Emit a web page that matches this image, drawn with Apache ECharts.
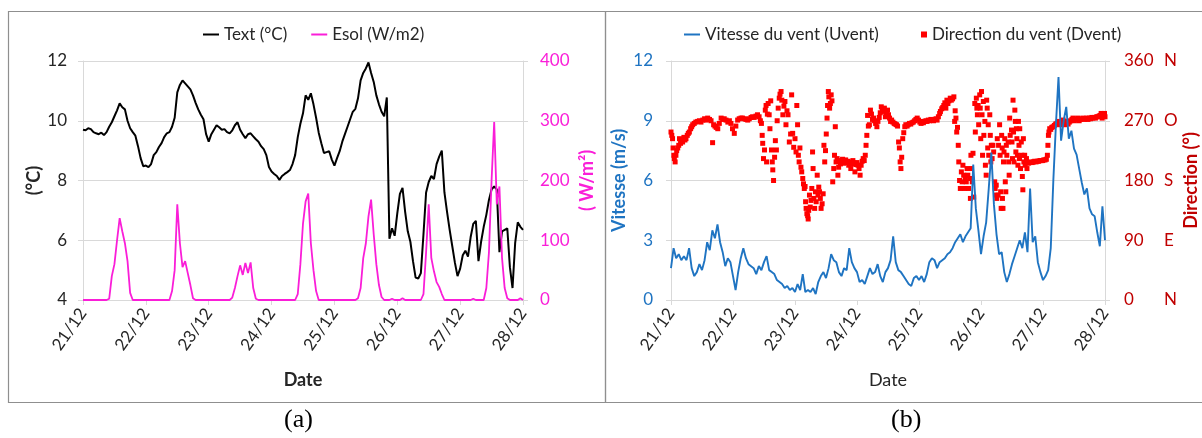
<!DOCTYPE html>
<html><head><meta charset="utf-8">
<script src="https://cdn.jsdelivr.net/npm/echarts@6/dist/echarts.min.js"></script>
<style>html,body{margin:0;padding:0;background:#fff}#c{width:1202px;height:438px}</style>
</head><body><div id="c"></div>
<script>
// ---- data ----
const dayLabels = ['21/12','22/12','23/12','24/12','25/12','26/12','27/12','28/12'];
const hours = Array.from({length: 169}, (_, i) => i); // hourly samples from 21/12 00:00

const textTemp = [
  9.70,9.68,9.75,9.72,9.62,9.58,9.55,9.60,9.52,9.62,9.80,9.95,10.15,10.35,10.58,10.45,10.38,10.00,9.75,9.62,9.50,9.15,8.75,8.48,
  8.50,8.45,8.55,8.85,8.95,9.12,9.25,9.45,9.58,9.62,9.80,10.10,10.95,11.20,11.35,11.25,11.15,11.05,10.85,10.60,10.38,10.20,10.05,9.55,
  9.30,9.55,9.70,9.85,9.78,9.70,9.72,9.62,9.58,9.68,9.85,9.95,9.70,9.55,9.42,9.55,9.58,9.48,9.38,9.30,9.15,9.05,8.85,8.45,
  8.30,8.22,8.15,8.02,8.15,8.22,8.28,8.35,8.55,8.85,9.45,9.90,10.25,10.85,10.70,10.92,10.55,10.10,9.60,9.25,8.92,8.95,8.98,8.70,
  8.50,8.75,8.98,9.30,9.55,9.80,10.05,10.30,10.40,10.75,11.35,11.60,11.75,11.95,11.60,11.30,10.85,10.55,10.30,10.15,10.78,6.05,6.40,6.15,
  6.90,7.55,7.75,6.95,6.30,5.95,5.30,4.75,4.72,4.90,6.20,7.60,7.95,8.15,8.05,8.55,8.80,9.00,7.60,6.95,6.35,5.80,5.25,4.80,
  5.05,5.50,5.65,5.45,6.10,6.55,6.65,5.30,5.95,6.45,6.85,7.35,7.70,7.80,7.70,5.60,6.30,6.35,6.40,5.10,4.40,5.90,6.60,6.45,
  6.35
];
const esol = [
  0,0,0,0,0,0,0,0,0,0,2,40,60,100,137,115,95,65,12,0,0,0,0,0,
  0,0,0,0,0,0,0,0,0,0,15,50,160,95,55,65,45,25,3,0,0,0,0,0,
  0,0,0,0,0,0,0,0,0,4,20,40,58,42,62,45,63,20,2,0,0,0,0,0,
  0,0,0,0,0,0,0,0,0,0,10,60,128,165,178,95,50,15,0,0,0,0,0,0,
  0,0,0,0,0,0,0,0,0,3,20,70,95,140,168,110,60,25,5,0,0,0,2,0,
  0,0,3,0,0,0,0,0,0,0,10,80,160,70,48,30,22,10,0,0,0,0,0,0,
  0,0,0,0,0,2,0,0,0,0,20,80,200,298,160,190,70,20,3,0,0,0,0,3,
  0
];
const windSpeed = [
  1.6,2.6,2.1,2.3,2.0,2.2,2.0,2.6,1.6,1.2,1.4,1.8,1.5,2.0,2.9,2.5,3.5,3.1,3.8,2.9,2.4,1.7,2.1,1.9,
  1.2,0.5,1.4,2.1,2.6,2.1,1.8,1.7,1.6,1.3,1.7,1.5,1.9,2.2,1.5,1.4,1.3,1.0,0.9,0.8,0.6,0.7,0.5,0.6,
  0.4,0.8,0.5,1.3,0.4,0.5,0.4,0.6,0.3,0.9,1.2,1.4,1.1,1.6,2.3,2.0,1.9,1.4,1.2,1.6,1.5,2.6,1.9,1.6,
  1.4,0.9,1.0,0.8,1.2,1.6,1.3,1.4,1.8,1.2,0.9,1.4,1.6,2.0,3.2,1.9,1.5,1.4,1.2,1.0,0.8,0.7,1.1,1.2,
  1.0,1.2,0.9,1.3,1.9,2.1,2.0,1.6,1.9,2.0,2.1,2.3,2.4,2.6,2.9,3.1,3.3,2.9,3.2,3.4,3.6,6.8,4.6,3.5,
  2.3,3.2,3.9,5.6,7.4,4.8,3.3,2.3,2.4,1.4,0.9,1.3,1.8,2.2,2.6,3.0,2.6,3.4,2.4,5.6,2.9,3.2,1.9,1.4,
  1.0,1.2,1.5,2.6,6.0,8.8,11.2,8.0,9.0,9.7,8.1,8.5,7.6,7.3,6.6,5.9,5.3,5.6,4.6,4.3,4.2,3.4,2.7,4.7,
  3.0
];
// [hour since 21/12 00:00, direction in degrees]
const windDirection = [
 [0,253],[0.3,248],[0.6,243],[0.8,229],[1.1,218],[1.3,213],[1.6,208],[1.9,218],[2.2,225],[2.6,229],[3.0,233],[3.3,243],[3.7,236],[4.1,240],[4.5,238],[5.0,245],[5.4,241],[5.8,243],[6.3,248],[6.7,251],[7.1,253],[7.6,258],[8.0,261],[8.4,264],[9.0,266],[9.6,268],[10.3,269],[11.0,270],[11.6,268],[12.3,271],[13.0,273],[13.6,271],[14.2,274],[14.9,272],[15.5,270],[16.1,237],[16.5,264],[17.0,262],[17.5,260],[18.1,258],[18.7,266],[19.4,274],[20.0,272],[20.6,273],[21.3,271],[22.0,268],[22.6,270],[23.2,266],[23.8,258],[24.5,251],[25.1,262],[25.8,271],[26.4,273],[27.1,274],[27.7,274],[28.4,273],[29.0,272],[29.7,271],[30.3,273],[31.0,275],[31.6,276],[32.2,275],[32.9,277],[33.5,279],[34.1,276],[34.6,270],
 [35.0,266],[35.3,248],[35.5,236],[35.8,213],[36.2,226],[36.5,286],[36.8,293],[37.0,208],[37.3,280],[37.6,296],[38.0,279],[38.3,258],[38.6,300],[38.9,226],[39.2,208],[39.4,196],[39.7,180],[40.1,215],[40.4,240],[40.8,226],[41.1,270],[41.5,289],[41.9,304],[42.2,310],[42.6,314],[42.9,301],[43.3,279],[43.7,292],[44.1,299],[44.5,264],[44.9,285],[45.3,279],[45.8,238],[46.3,250],[46.7,309],[47.1,251],[47.5,230],[48.0,243],[48.4,223],[48.7,293],[49.0,264],[49.3,218],[49.6,208],[49.9,229],[50.3,200],[50.6,193],[51.0,183],[51.3,175],[51.6,168],[51.9,171],[52.1,148],[52.3,138],[52.6,130],[52.9,127],[53.1,122],[53.3,135],[53.6,158],[53.9,140],[54.2,150],[54.5,168],[54.8,223],[55.0,198],[55.3,153],[55.6,138],[55.9,163],[56.2,148],[56.6,188],[56.9,158],[57.2,170],[57.5,163],[57.8,153],[58.1,138],[58.5,145],[58.9,160],[59.2,233],[59.5,208],[59.8,225],[60.1,250],[60.4,274],[60.6,293],[60.9,314],[61.1,306],[61.4,289],[61.7,296],[62.0,309],[62.3,300],[62.6,178],[63.0,198],[63.3,218],[63.6,261],[63.9,208],[64.3,213],[64.6,188],[64.9,200],[65.3,210],[65.6,205],[66.0,208],[66.4,212],[66.8,206],[67.2,210],[67.6,211],[68.0,207],[68.4,209],[68.8,203],[69.2,208],[69.6,198],[70.0,205],[70.4,210],[70.8,206],[71.2,193],[71.6,204],[72.0,207],[72.4,203],[72.8,198],[73.2,188],[73.6,203],[74.0,209],[74.4,213],[74.8,210],[75.2,218],
 [75.5,233],[75.8,248],[76.1,278],[76.4,262],[76.8,264],[77.2,286],[77.6,280],[78.0,272],[78.4,274],[78.8,270],[79.2,266],[79.7,261],[80.1,269],[80.6,275],[81.0,282],[81.4,291],[81.8,284],[82.2,288],[82.6,289],[83.0,276],[83.4,282],[83.8,286],[84.2,279],[84.6,274],[85.0,269],[85.4,271],[85.9,268],[86.4,266],[86.8,265],[87.3,264],[87.7,262],[88.1,238],[88.4,229],[88.7,208],[89.0,198],[89.3,215],[89.7,243],[90.1,252],[90.5,261],[90.9,264],[91.4,262],[91.8,264],[92.3,266],[92.8,265],[93.3,267],[93.8,268],[94.3,270],[94.8,272],[95.3,274],[95.8,271],[96.3,268],[96.8,266],[97.2,269],[97.7,267],[98.2,269],[98.7,270],[99.1,269],[99.6,271],[100.1,270],[100.6,272],[101.1,271],[101.6,270],[102.1,272],[102.6,273],[103.0,271],[103.5,276],[104.0,281],[104.3,284],[104.8,288],[105.2,290],[105.6,293],[106.0,297],[106.4,289],[106.8,301],[107.2,296],[107.6,300],[108.1,304],[108.5,301],[109.0,303],[109.5,306],[109.8,269],[110.0,285],[110.3,274],[110.6,253],[110.9,260],[111.2,233],[111.4,208],[111.7,180],[112.0,168],[112.4,193],[112.7,178],[113.0,203],[113.3,188],[113.6,168],[113.9,183],[114.3,178],[114.6,198],[114.9,188],[115.2,168],[115.6,183],[115.9,153],[116.1,218],[116.3,198],[116.6,178],[116.9,221],[117.2,155],
 [117.6,296],[117.8,253],[118.2,304],[118.4,289],[118.6,279],[118.9,293],[119.1,264],[119.5,309],[119.7,289],[119.9,243],[120.2,314],[120.4,279],[120.6,218],[120.9,299],[121.1,248],[121.5,269],[121.7,203],[122.0,188],[122.2,301],[122.4,289],[122.6,229],[122.8,264],[123.0,218],[123.4,279],[123.6,248],[123.8,208],[124.0,233],[124.3,213],[124.6,233],[124.9,223],[125.3,178],[125.5,168],[125.7,158],[125.9,173],[126.1,153],[126.3,243],[126.6,158],[126.8,233],[127.2,264],[127.4,218],[127.6,163],[127.8,138],[128.0,248],[128.2,229],[128.3,153],[128.5,138],[128.7,208],[128.9,223],[129.2,243],[129.4,178],[129.6,163],[129.8,233],[130.0,218],[130.5,238],[130.7,208],[130.9,188],[131.1,274],[131.3,248],[131.8,256],[132.0,238],[132.2,213],[132.4,301],[132.6,253],[132.8,208],[133.1,286],[133.3,269],[133.5,223],[133.7,258],[133.9,243],[134.1,218],[134.3,203],[134.5,269],[134.7,233],[134.9,213],[135.0,258],[135.3,198],[135.6,238],[135.8,218],[136.0,186],[136.2,166],[136.4,243],[136.6,208],[136.9,218],[137.1,203],[137.6,213],[137.8,198],
 [138.3,206],[138.8,207],[139.3,208],[139.8,207],[140.3,208],[140.8,209],[141.3,208],[141.8,209],[142.3,209],[142.8,210],[143.3,210],[143.8,210],[144.3,211],[144.8,211],[145.3,212],[145.7,218],
 [145.9,233],[146.1,248],[146.3,253],[146.6,258],[147.0,257],[147.4,260],[147.9,261],[148.4,263],[148.9,265],[149.4,266],[149.9,269],[150.4,264],[150.9,268],[151.4,266],[151.8,271],[152.3,264],[152.8,267],[153.3,269],[153.7,265],[154.2,268],[154.7,270],[155.2,272],[155.6,274],[156.1,270],[156.6,271],[157.0,273],[157.5,274],[158.0,270],[158.5,272],[159.0,273],[159.5,274],[160.0,272],[160.5,273],[161.0,274],[161.4,272],[161.9,274],[162.4,273],[162.9,275],[163.3,274],[163.8,275],[164.3,274],[164.8,276],[165.2,276],[165.7,277],[166.1,278],[166.5,281],[166.9,274],[167.3,279],[167.8,281],[168.0,276]
];
const tempTicks = [4, 12, 2];      // min, max, interval
const esolTicks = [0, 400, 100];
const speedTicks = [0, 12, 3];
const dirTicks = [0, 360, 90];
const dirLetters = {0: 'N', 90: 'E', 180: 'S', 270: 'O', 360: 'N'};

// ---- styles ----
const FONT = 'Lato';
const GRID_C = '#d9d9d9';
const MAGENTA = '#fa1ed8';
const BLUE = '#1f74c2';
const DARKRED = '#c00000';
const TXT = '#262626';

const xAxisBase = (gi, bold) => ({
  type: 'value', gridIndex: gi, min: 0, max: 168, interval: 24,
  axisLine: {show: true, lineStyle: {color: GRID_C, width: 1}},
  axisTick: {show: true, length: 5, lineStyle: {color: GRID_C}},
  splitLine: {show: false},
  axisLabel: {rotate: 55, margin: 10, fontFamily: FONT, fontSize: 17, color: TXT,
    formatter: v => dayLabels[Math.round(v / 24)]},
  name: 'Date', nameLocation: 'middle', nameGap: 71,
  nameTextStyle: {fontFamily: FONT, fontSize: 18, fontWeight: bold ? 'bold' : 'normal', color: TXT}
});
const yAxisBase = (gi, pos, t, color, name, gap, split, margin, fmt) => ({
  type: 'value', gridIndex: gi, position: pos, min: t[0], max: t[1], interval: t[2],
  axisLine: {show: true, lineStyle: {color: GRID_C, width: 1}},
  axisTick: {show: true, length: 5, lineStyle: {color: GRID_C}},
  splitLine: {show: split, lineStyle: {color: GRID_C, width: 1}},
  axisLabel: Object.assign({margin: margin, fontFamily: FONT, fontSize: 17, color: color}, fmt || {}),
  name: name, nameLocation: 'middle', nameGap: gap, nameRotate: 90,
  nameTextStyle: {fontFamily: FONT, fontSize: 18, fontWeight: 'bold', color: color}
});

const legendBase = (left, names, w, h, icon) => ({
  left: left, top: 21, data: names, icon: icon, itemWidth: w, itemHeight: h, itemGap: 24,
  textStyle: {fontFamily: FONT, fontSize: 17, color: TXT}, selectedMode: false
});

const option = {
  backgroundColor: '#fff',
  animation: false,
  grid: [
    {left: 83, top: 61, width: 440, height: 239},
    {left: 671, top: 61, width: 434, height: 239}
  ],
  legend: [
    legendBase(198, ['Text (°C)', 'Esol (W/m2)'], 16, 2, 'rect'),
    legendBase(679, ['Vitesse du vent (Uvent)'], 16, 2, 'rect'),
    legendBase(916, ['Direction du vent (Dvent)'], 6, 6, 'rect')
  ],
  xAxis: [xAxisBase(0, true), xAxisBase(1, false)],
  yAxis: [
    yAxisBase(0, 'left', tempTicks, TXT, '(°C)', 40, true, 16),
    yAxisBase(0, 'right', esolTicks, MAGENTA, '( W/m²)', 55, false, 17),
    yAxisBase(1, 'left', speedTicks, BLUE, 'Vitesse (m/s)', 43, true, 18),
    yAxisBase(1, 'right', dirTicks, DARKRED, 'Direction (°)', 77, false, 19, {
      formatter: v => '{n|' + v + '}{d|' + dirLetters[v] + '}',
      rich: {n: {width: 40, fontFamily: FONT, fontSize: 17, color: DARKRED},
             d: {fontFamily: FONT, fontSize: 17, color: DARKRED}}
    })
  ],
  series: [
    {name: 'Text (°C)', type: 'line', xAxisIndex: 0, yAxisIndex: 0, showSymbol: false,
     lineStyle: {color: '#000', width: 2}, itemStyle: {color: '#000'},
     data: hours.map((h, i) => [h, textTemp[i]])},
    {name: 'Esol (W/m2)', type: 'line', xAxisIndex: 0, yAxisIndex: 1, showSymbol: false,
     lineStyle: {color: MAGENTA, width: 1.8}, itemStyle: {color: MAGENTA},
     data: hours.map((h, i) => [h, esol[i]])},
    {name: 'Vitesse du vent (Uvent)', type: 'line', xAxisIndex: 1, yAxisIndex: 2, showSymbol: false,
     lineStyle: {color: BLUE, width: 1.9}, itemStyle: {color: BLUE},
     data: hours.map((h, i) => [h, windSpeed[i]])},
    {name: 'Direction du vent (Dvent)', type: 'scatter', xAxisIndex: 1, yAxisIndex: 3,
     symbol: 'rect', symbolSize: 5, itemStyle: {color: '#ff0000', opacity: 1},
     data: windDirection}
  ],
  graphic: [
    {type: 'rect', shape: {x: 8.5, y: 11.5, width: 597, height: 391}, style: {fill: 'none', stroke: '#8f8f8f', lineWidth: 1.2}, silent: true},
    {type: 'rect', shape: {x: 605.5, y: 11.5, width: 610, height: 391}, style: {fill: 'none', stroke: '#8f8f8f', lineWidth: 1.2}, silent: true},
    {type: 'text', left: 284, top: 407, style: {text: '(a)', font: '26px "Liberation Serif"', fill: '#000'}},
    {type: 'text', left: 891, top: 407, style: {text: '(b)', font: '26px "Liberation Serif"', fill: '#000'}}
  ]
};

const chart = echarts.init(document.getElementById('c'), null, {renderer: 'canvas'});
chart.setOption(option);
</script>
</body></html>
